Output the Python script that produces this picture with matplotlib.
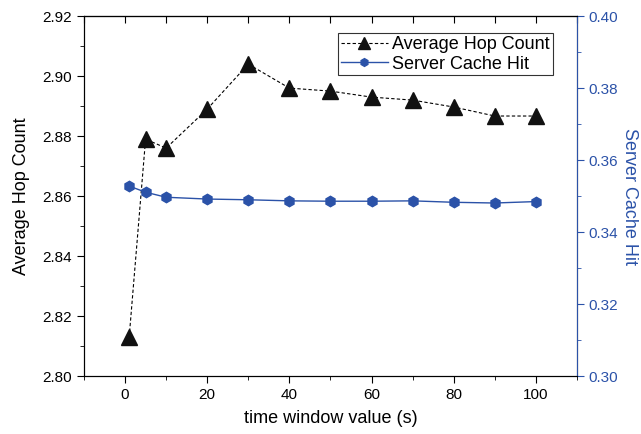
import numpy as np
import matplotlib
matplotlib.use("Agg")
import matplotlib.pyplot as plt
from matplotlib.ticker import MultipleLocator, FormatStrFormatter

plt.rcParams['font.family'] = ['Liberation Sans', 'DejaVu Sans']

# data
window = [1, 5, 10, 20, 30, 40, 50, 60, 70, 80, 90, 100]
hop_count = [2.813, 2.879, 2.876, 2.889, 2.904, 2.896, 2.895, 2.893, 2.892, 2.8897, 2.8867, 2.8867]
cache_hit = [0.3528, 0.3511, 0.3497, 0.3492, 0.3490, 0.3487, 0.3486, 0.3486, 0.3487, 0.3483, 0.3481, 0.3485]

blue = "#2B52A8"

fig, ax = plt.subplots(figsize=(6.41, 4.34), dpi=100)
fig.subplots_adjust(left=0.131, right=0.9, top=0.963, bottom=0.133)
ax2 = ax.twinx()

l1, = ax.plot(window, hop_count, color="black", linestyle=(0, (3, 2)), linewidth=0.8,
              marker="^", markersize=11.5, markerfacecolor="#111111", markeredgecolor="#111111",
              label="Average Hop Count")
l2, = ax2.plot(window, cache_hit, color=blue, linewidth=1.0,
               marker="h", markersize=7.5, markerfacecolor=blue, markeredgecolor=blue,
               label="Server Cache Hit")

ax.set_xlim(-10, 110)
ax.set_ylim(2.80, 2.92)
ax2.set_ylim(0.30, 0.40)

ax.xaxis.set_major_locator(MultipleLocator(20))
ax.xaxis.set_minor_locator(MultipleLocator(10))
ax.yaxis.set_major_locator(MultipleLocator(0.02))
ax.yaxis.set_minor_locator(MultipleLocator(0.01))
ax2.yaxis.set_major_locator(MultipleLocator(0.02))
ax2.yaxis.set_minor_locator(MultipleLocator(0.01))
ax.yaxis.set_major_formatter(FormatStrFormatter('%.2f'))
ax2.yaxis.set_major_formatter(FormatStrFormatter('%.2f'))

ax.tick_params(axis="x", which="both", direction="out", top=False, labelsize=11)
ax.tick_params(axis="x", which="major", length=5)
ax.tick_params(axis="x", which="minor", length=3)
ax.tick_params(axis="y", which="major", direction="out", length=5, labelsize=11)
ax.tick_params(axis="y", which="minor", direction="out", length=3)
ax2.tick_params(axis="y", which="major", direction="out", length=5, colors=blue, labelsize=11)
ax2.tick_params(axis="y", which="minor", direction="out", length=3, colors=blue)

# top spine ticks point inward
secx = ax.secondary_xaxis("top")
secx.xaxis.set_major_locator(MultipleLocator(10))
secx.tick_params(direction="in", length=5, labeltop=False)

ax2.spines["right"].set_color(blue)

ax.set_xlabel("time window value (s)", fontsize=13, labelpad=6)
ax.set_ylabel("Average Hop Count", fontsize=13, labelpad=9)
ax2.set_ylabel("Server Cache Hit", fontsize=13, color=blue, rotation=-90, labelpad=14)

leg = ax.legend(handles=[l1, l2], loc="upper right", bbox_to_anchor=(0.951, 0.952),
                fontsize=13, frameon=True, fancybox=False, edgecolor="black",
                borderpad=0.15, handlelength=2.6, handletextpad=0.25, labelspacing=0.15,
                borderaxespad=0, markerscale=0.75)
leg.get_frame().set_linewidth(0.8)

fig.savefig("out.png", dpi=100)
